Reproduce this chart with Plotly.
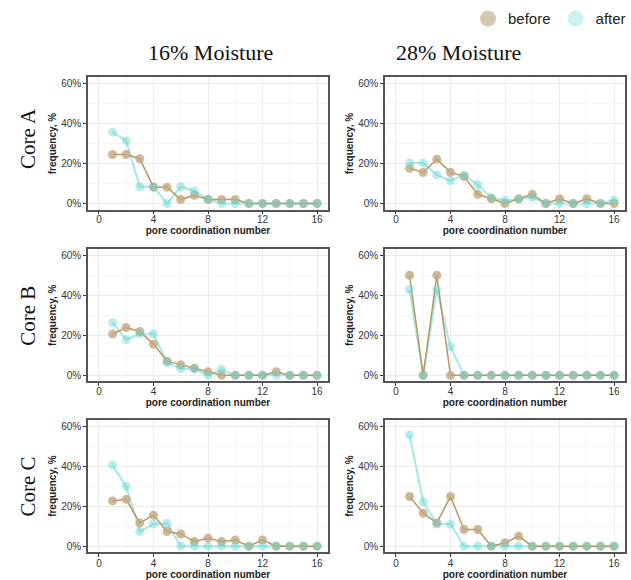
import plotly.graph_objects as go

# ---------------- data ----------------
coord = list(range(1, 17))

A16_before = [24.5, 24.5, 22.4, 8.2, 8.2, 2.0, 4.1, 2.0, 2.0, 2.0, 0, 0, 0, 0, 0, 0]
A16_after = [35.7, 31.3, 8.4, 8.4, 0, 8.4, 6.3, 2.1, 0, 0, 0, 0, 0, 0, 0, 0]

A28_before = [17.6, 15.5, 22.2, 15.6, 13.5, 4.6, 2.4, 0, 2.4, 4.6, 0, 2.4, 0, 2.4, 0, 0]
A28_after = [20.3, 20.3, 14.3, 11.4, 14.3, 9.4, 2.9, 1.6, 2.1, 3.1, 0, 0, 0, 0, 0, 1.6]

B16_before = [20.6, 23.9, 21.9, 15.6, 7.1, 5.3, 3.6, 1.8, 0, 0, 0, 0, 1.8, 0, 0, 0]
B16_after = [26.4, 17.8, 20.8, 20.8, 6.3, 3.3, 3.3, 0, 3.0, 0, 0, 0, 0, 0, 0, 0]

B28_before = [50.0, 0, 50.0, 0, 0, 0, 0, 0, 0, 0, 0, 0, 0, 0, 0, 0]
B28_after = [42.9, 0, 42.9, 14.3, 0, 0, 0, 0, 0, 0, 0, 0, 0, 0, 0, 0]

C16_before = [22.6, 23.4, 11.6, 15.5, 7.3, 6.1, 2.3, 4.0, 2.3, 3.1, 0, 3.1, 0, 0, 0, 0]
C16_after = [40.5, 29.8, 7.3, 11.1, 11.4, 0, 0, 0, 0, 0, 0, 0, 0, 0, 0, 0]

C28_before = [24.8, 16.5, 11.6, 24.8, 8.3, 8.3, 0, 1.7, 5.0, 0, 0, 0, 0, 0, 0, 0]
C28_after = [55.6, 22.2, 11.1, 11.1, 0, 0, 0, 0, 0, 0, 0, 0, 0, 0, 0, 0]

moisture_labels = ["16% Moisture", "28% Moisture"]
core_labels = ["Core A", "Core B", "Core C"]
series_names = ["before", "after"]

panels = [
    [(A16_before, A16_after), (A28_before, A28_after)],
    [(B16_before, B16_after), (B28_before, B28_after)],
    [(C16_before, C16_after), (C28_before, C28_after)],
]

x_ticks = [0, 4, 8, 12, 16]
y_ticks = [0, 20, 40, 60]
y_ticktext = ["0%", "20%", "40%", "60%"]

# ---------------- layout ----------------
W, H = 631, 580
col_px = [(88, 328), (385, 625)]
row_px = [(78, 211), (251, 384), (423, 556)]
row_label_shift = [-3, -3, -2]
row_title_standoff = [2, 2, 4]

BEFORE_LINE = "rgb(184,150,100)"
BEFORE_MARK = "rgba(192,168,125,0.8)"
AFTER_LINE = "rgb(165,232,230)"
AFTER_MARK = "rgba(100,215,210,0.45)"

fig = go.Figure()
layout_axes = {}
sans = "Liberation Sans, Arial, sans-serif"
serif = "Liberation Serif, Times New Roman, serif"

idx = 0
for r in range(3):
    for c in range(2):
        idx += 1
        xa = "x" if idx == 1 else f"x{idx}"
        ya = "y" if idx == 1 else f"y{idx}"
        before, after = panels[r][c]
        fig.add_trace(go.Scatter(
            x=coord, y=after, mode="lines", xaxis=xa, yaxis=ya,
            line=dict(color=AFTER_LINE, width=2), showlegend=False, name="after"))
        fig.add_trace(go.Scatter(
            x=coord, y=before, mode="lines", xaxis=xa, yaxis=ya,
            line=dict(color=BEFORE_LINE, width=1.5), showlegend=False, name="before"))
        fig.add_trace(go.Scatter(
            x=coord, y=before, mode="markers", xaxis=xa, yaxis=ya,
            marker=dict(color=BEFORE_MARK, size=9, line=dict(width=0)),
            showlegend=False, name="before"))
        fig.add_trace(go.Scatter(
            x=coord, y=after, mode="markers", xaxis=xa, yaxis=ya,
            marker=dict(color=AFTER_MARK, size=9, line=dict(width=0)),
            showlegend=False, name="after"))
        x0, x1 = col_px[c]
        y0, y1 = row_px[r]
        xkey = "xaxis" if idx == 1 else f"xaxis{idx}"
        ykey = "yaxis" if idx == 1 else f"yaxis{idx}"
        layout_axes[xkey] = dict(
            domain=[x0 / W, x1 / W], anchor=ya, range=[-0.8, 16.8],
            tickvals=x_ticks, ticks="outside", ticklen=3, tickcolor="#333",
            ticklabelstandoff=row_label_shift[r],
            tickfont=dict(family=sans, size=10, color="#333"),
            showgrid=True, gridcolor="#EBEBEB", gridwidth=1,
            minor=dict(dtick=2, tick0=0, showgrid=True, gridcolor="#F5F5F5", gridwidth=0.7),
            showline=True, mirror=True, linecolor="#555", linewidth=1.5,
            zeroline=False,
            title=dict(text="<b>pore coordination number</b>", standoff=row_title_standoff[r],
                       font=dict(family=sans, size=10, color="#222")))
        layout_axes[ykey] = dict(
            domain=[1 - y1 / H, 1 - y0 / H], anchor=xa, range=[-3, 63],
            tickvals=y_ticks, ticktext=y_ticktext, ticks="outside", ticklen=3, tickcolor="#333",
            tickfont=dict(family=sans, size=10, color="#333"),
            showgrid=True, gridcolor="#EBEBEB", gridwidth=1,
            minor=dict(dtick=10, tick0=0, showgrid=True, gridcolor="#F5F5F5", gridwidth=0.7),
            showline=True, mirror=True, linecolor="#555", linewidth=1.5,
            zeroline=False,
            title=dict(text="<b>frequency, %</b>", standoff=3,
                       font=dict(family=sans, size=10, color="#222")))

# legend-only traces
fig.add_trace(go.Scatter(x=[None], y=[None], mode="markers", name=series_names[0],
                         marker=dict(color="rgb(214,200,174)", size=16), showlegend=True))
fig.add_trace(go.Scatter(x=[None], y=[None], mode="markers", name=series_names[1],
                         marker=dict(color="rgb(204,242,242)", size=16), showlegend=True))

annotations = []
for c, lab in enumerate(moisture_labels):
    cx = [210, 458][c]
    annotations.append(dict(text=lab, x=cx / W, y=1 - 53 / H, xref="paper", yref="paper",
                            showarrow=False, font=dict(family=serif, size=22, color="#111"),
                            xanchor="center", yanchor="middle"))
for r, lab in enumerate(core_labels):
    cy = [140, 318, 490][r]
    annotations.append(dict(text=lab, x=28 / W, y=1 - cy / H, xref="paper", yref="paper",
                            showarrow=False, textangle=-90,
                            font=dict(family=serif, size=21, color="#111"),
                            xanchor="center", yanchor="middle"))

fig.update_layout(
    width=W, height=H, margin=dict(l=0, r=0, t=0, b=0),
    paper_bgcolor="white", plot_bgcolor="white",
    showlegend=True,
    legend=dict(orientation="h", x=1.0, xanchor="right", y=1 - 19 / H, yanchor="middle",
                font=dict(family=sans, size=15, color="#222"), itemsizing="trace",
                bgcolor="rgba(0,0,0,0)", itemwidth=30),
    annotations=annotations,
    **layout_axes,
)

fig.write_html("out.html", config={"displayModeBar": False},
               post_script=["document.body.style.margin='0px';document.body.style.overflow='hidden';"])
